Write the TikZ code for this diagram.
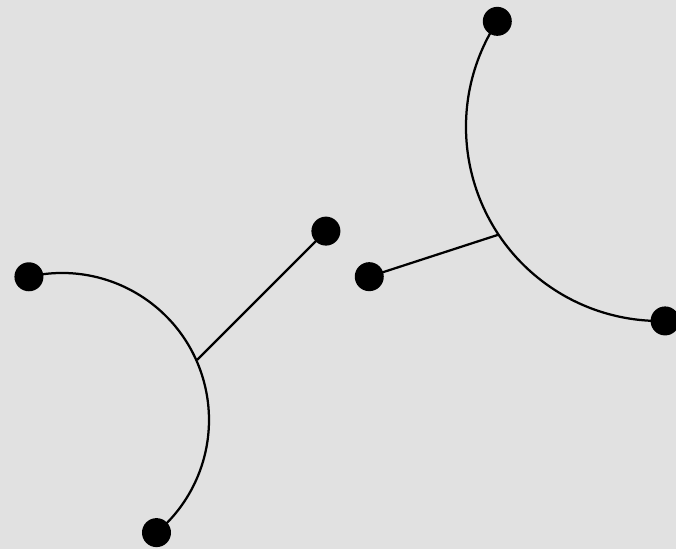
\documentclass[tikz,border=0pt]{standalone}
\usepackage{tikz}
\usetikzlibrary{calc}
\definecolor{paper}{RGB}{225,225,225}

\begin{document}
\begin{tikzpicture}[x=0.025cm, y=0.025cm,
    dot/.style={circle, fill=black, inner sep=0pt, minimum size=29*0.025cm},
    wire/.style={black, line width=1.6pt}]
    % Background sheet
    \fill[paper] (0,0) rectangle (676,549);
    \useasboundingbox (0,0) rectangle (676,549);

    % Left arc with its stem
    \coordinate (cL) at (62,129);
    \node[dot] (la) at ($(cL)+(103:147)$) {};
    \node[dot] (lb) at ($(cL)+(-50:147)$) {};
    \coordinate (lj) at ($(cL)+(24:148)$);
    \node[dot] (lc) at ($(lj)+(45:182)$) {};
    \draw[wire] (la.center) arc[start angle=103, end angle=-50, radius=147];
    \draw[wire] (lj) -- (lc.center);

    % Right arc with its stem
    \coordinate (cR) at (660,422);
    \node[dot] (ra) at ($(cR)+(147:194)$) {};
    \node[dot] (rb) at ($(cR)+(271.5:194)$) {};
    \coordinate (rj) at ($(cR)+(213.7:194)$);
    \node[dot] (rc) at ($(rj)+(198:136)$) {};
    \draw[wire] (ra.center) arc[start angle=147, end angle=271.5, radius=194];
    \draw[wire] (rj) -- (rc.center);
\end{tikzpicture}
\end{document}
